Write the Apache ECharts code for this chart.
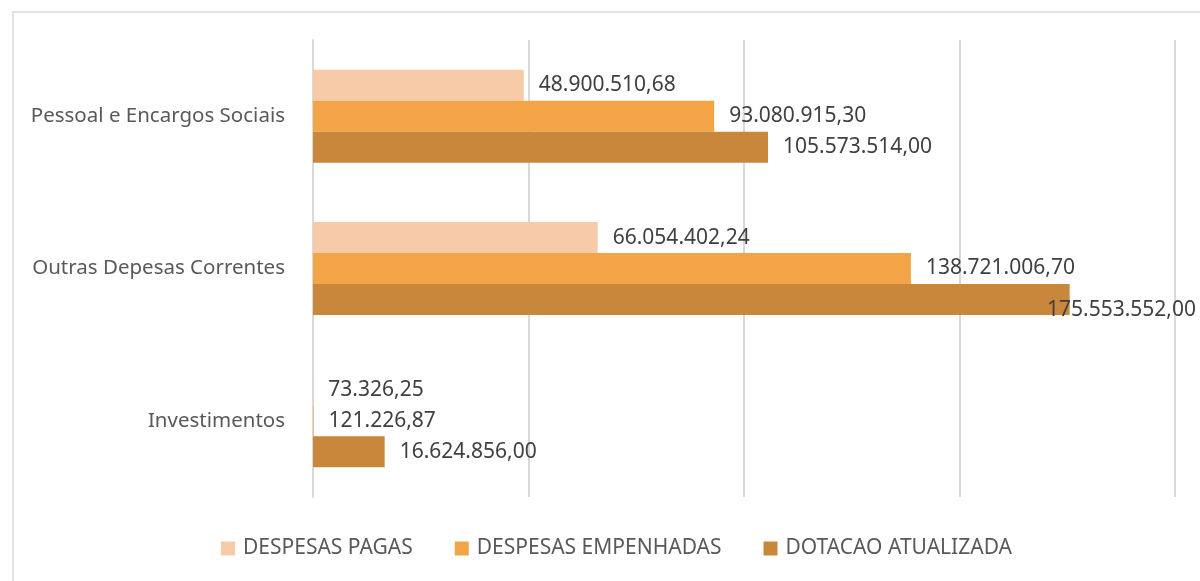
<!DOCTYPE html>
<html>
<head>
<meta charset="utf-8">
<script src="https://cdn.jsdelivr.net/npm/echarts@6/dist/echarts.min.js"></script>
<style>
  html, body { margin: 0; padding: 0; background: #fff; }
  #chart { width: 1200px; height: 581px; }
</style>
</head>
<body>
<div id="chart"></div>
<script>
// Chart data
const categories = ['Pessoal e Encargos Sociais', 'Outras Depesas Correntes', 'Investimentos'];
const despesasPagas = [48900510.68, 66054402.24, 73326.25];
const despesasEmpenhadas = [93080915.30, 138721006.70, 121226.87];
const dotacaoAtualizada = [105573514.00, 175553552.00, 16624856.00];

const colors = ['#F8CBA8', '#F2A446', '#C8873A'];
const fontFamily = '"Noto Sans", "Open Sans", sans-serif';

// format like 48.900.510,68
function fmtBR(v) {
  const parts = v.toFixed(2).split('.');
  const intPart = parts[0].replace(/\B(?=(\d{3})+(?!\d))/g, '.');
  return intPart + ',' + parts[1];
}

function makeSeries(name, data, color) {
  return {
    name: name,
    type: 'bar',
    data: data,
    barGap: '0%',
    barCategoryGap: '39%',
    itemStyle: { color: color },
    label: {
      show: true,
      position: 'right',
      distance: 15,
      color: '#404040',
      fontSize: 21,
      fontFamily: fontFamily,
      formatter: p => fmtBR(p.value)
    },
    // keep labels inside the picture, like the original (pulls back over the bar)
    labelLayout: function (params) {
      const r = params.labelRect;
      const limit = 1196;
      if (r.x + r.width > limit) {
        return { x: limit - r.width, align: 'left' };
      }
      return {};
    }
  };
}

var chart = echarts.init(document.getElementById('chart'));

option = {
  animation: false,
  grid: {
    left: 313,
    right: 25,
    top: 40,
    bottom: 84
  },
  graphic: [
    {
      type: 'rect',
      shape: { x: 13, y: 12, width: 1200, height: 600 },
      style: { fill: 'none', stroke: '#d9d9d9', lineWidth: 1.5 },
      silent: true
    }
  ],
  legend: {
    bottom: 17,
    left: 216,
    itemWidth: 14,
    itemHeight: 14,
    itemGap: 42,
    icon: 'rect',
    textStyle: { color: '#595959', fontSize: 21, fontFamily: fontFamily, padding: [0, 0, 0, 3] },
    data: ['DESPESAS PAGAS', 'DESPESAS EMPENHADAS', 'DOTACAO ATUALIZADA']
  },
  xAxis: {
    type: 'value',
    min: 0,
    max: 200000000,
    interval: 50000000,
    axisLabel: { show: false },
    axisLine: { show: false },
    axisTick: { show: false },
    splitLine: { lineStyle: { color: '#d9d9d9', width: 2 } }
  },
  yAxis: {
    type: 'category',
    data: categories,
    inverse: true,
    axisLine: { lineStyle: { color: '#d9d9d9', width: 2 } },
    axisTick: { show: false },
    axisLabel: {
      color: '#595959',
      fontSize: 20.5,
      fontFamily: fontFamily,
      margin: 28
    }
  },
  series: [
    makeSeries('DESPESAS PAGAS', despesasPagas, colors[0]),
    makeSeries('DESPESAS EMPENHADAS', despesasEmpenhadas, colors[1]),
    makeSeries('DOTACAO ATUALIZADA', dotacaoAtualizada, colors[2])
  ]
};

chart.setOption(option);
</script>
</body>
</html>
